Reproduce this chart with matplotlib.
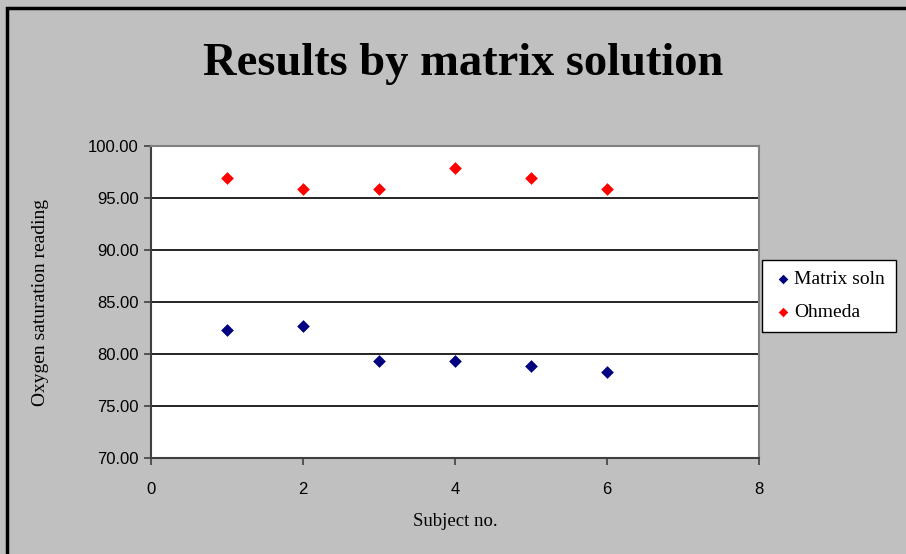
import matplotlib.pyplot as plt
from matplotlib.patches import Rectangle

# oxygen saturation per subject, two measurement methods
subjects = [1, 2, 3, 4, 5, 6]
matrix_soln = [82.35, 82.7, 79.3, 79.3, 78.8, 78.3]
ohmeda = [96.9, 95.9, 95.9, 97.9, 96.9, 95.9]

x_ticks = [0, 2, 4, 6, 8]
y_ticks = [70, 75, 80, 85, 90, 95, 100]

BG = "#c0c0c0"
SERIF = ["Liberation Serif", "DejaVu Serif"]
SANS = ["Liberation Sans", "DejaVu Sans"]

fig = plt.figure(figsize=(9.06, 5.54), dpi=100, facecolor=BG)

# black frame around the chart area (top and left edges visible)
fig.patches.append(Rectangle((7 / 906, -0.01), 1.0, 1 - 8 / 554 + 0.01,
                             transform=fig.transFigure, fill=False,
                             edgecolor="black", linewidth=2.5, zorder=0))

ax = fig.add_axes([151 / 906, 1 - 458 / 554, (759 - 151) / 906, (458 - 146) / 554])
ax.set_facecolor("white")

ax.scatter(subjects, matrix_soln, marker="D", s=42, color="#000080",
           label="Matrix soln", zorder=3, linewidths=0)
ax.scatter(subjects, ohmeda, marker="D", s=42, color="#ff0000",
           label="Ohmeda", zorder=3, linewidths=0)

ax.set_xlim(0, 8)
ax.set_ylim(70, 100)
ax.set_xticks(x_ticks)
ax.set_yticks(y_ticks)
ax.set_yticklabels([f"{v:.2f}" for v in y_ticks])
ax.yaxis.grid(True, color="black", linewidth=1.2)
ax.set_axisbelow(True)

for lab in ax.get_xticklabels() + ax.get_yticklabels():
    lab.set_family(SANS)
    lab.set_fontsize(12)
ax.tick_params(axis="both", direction="out", length=5, width=1.2, color="#404040")
ax.tick_params(axis="y", pad=4)
ax.tick_params(axis="x", pad=12)

for side in ["left", "bottom"]:
    ax.spines[side].set_color("#404040")
    ax.spines[side].set_linewidth(1.5)
for side in ["top", "right"]:
    ax.spines[side].set_color("#808080")
    ax.spines[side].set_linewidth(1.5)

fig.text(0.511, 1 - 64 / 554, "Results by matrix solution", ha="center", va="center",
         family=SERIF, fontsize=33.5, fontweight="bold")
ax.set_xlabel("Subject no.", family=SERIF, fontsize=13.5, labelpad=12)
ax.set_ylabel("Oxygen saturation reading", family=SERIF, fontsize=14, labelpad=28)

leg = ax.legend(loc="center left", bbox_to_anchor=(762 / 906, 1 - 296 / 554),
                bbox_transform=fig.transFigure, frameon=True, fancybox=False,
                prop={"family": SERIF, "size": 14}, handletextpad=0.0,
                borderpad=0.55, labelspacing=0.8, markerscale=0.75,
                handlelength=1.1, borderaxespad=0)
leg.get_frame().set_edgecolor("black")
leg.get_frame().set_linewidth(1.0)
leg.get_frame().set_facecolor("white")
leg.get_frame().set_alpha(1)

fig.savefig("out.png", dpi=100, facecolor=BG)
